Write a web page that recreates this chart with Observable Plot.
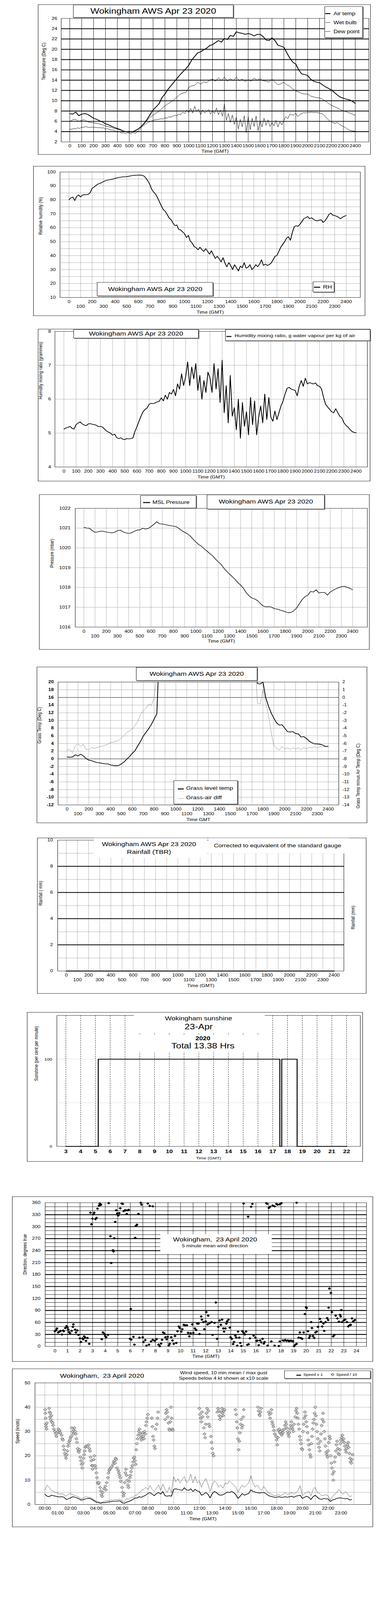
<!DOCTYPE html>
<html><head><meta charset="utf-8">
<script src="https://cdn.jsdelivr.net/npm/d3@7"></script>
<script src="https://cdn.jsdelivr.net/npm/@observablehq/plot@0.6"></script>
<style>
html,body{margin:0;padding:0;background:#fff;}
#page{position:relative;width:1000px;height:5000px;background:#fff;font-family:"Liberation Sans",Arial,Helvetica,sans-serif;color:#000;overflow:hidden;transform-origin:0 0;}
</style></head>
<body><div id="page"></div>
<script>
// ---------------- DATA ----------------
const hours15 = d3.range(97).map(i => i / 4);
const hours10 = d3.range(145).map(i => i / 6);
const hoursWind = d3.range(144).map(i => i / 6);
const hourTicks = d3.range(0, 25);

const airTemp = [7.5,7.4,7.8,7.1, 7.4,7.5,7.35,7.0, 6.6,6.4,6.1,5.9, 5.5,5.35,5.05,4.8, 4.6,4.4,4.1,4.0, 4.05,3.95,4.2,4.5,
 5.0,5.6,6.4,7.3, 8.2,8.8,9.4,10.6, 11.3,12.2,12.9,13.6, 14.3,15.0,15.6,16.2, 16.9,17.9,18.6,19.3, 19.5,19.9,20.2,20.7,
 20.9,21.3,21.7,21.4, 22.1,21.9,22.7,22.5, 23.4,23.2,23.1,22.9, 23.05,22.9,22.6,22.9, 22.9,22.5,21.8,21.7, 22.2,21.7,20.8,20.6,
 20.4,19.3,18.3,17.5, 17.1,16.0,15.2,15.1, 14.9,14.2,13.8,13.6, 13.5,13.1,12.7,12.4, 12.1,11.6,11.1,10.7, 10.5,10.3,10.2,9.9, 9.5];
const wetBulb = [6.0,6.3,6.35,6.0, 6.2,6.3,5.9,5.8, 5.7,5.6,5.5,5.3, 5.1,4.95,4.8,4.6, 4.5,4.3,4.15,3.95, 3.9,3.9,4.15,4.45,
 4.95,5.5,6.2,6.8, 7.2,7.6,7.95,8.5, 9.0,9.4,9.75,10.2, 10.7,11.2,11.5,11.6, 12.6,12.9,13.0,13.6, 13.2,13.7,13.5,14.0,
 14.2,13.8,14.5,13.9, 14.6,13.8,14.3,13.9, 14.6,13.9,14.2,13.7, 14.1,13.8,14.4,14.0, 14.3,13.9,13.8,13.6, 14.2,13.6,13.1,13.3,
 13.6,13.1,12.8,12.3, 11.9,11.7,11.4,11.3, 11.3,10.9,10.75,10.6, 10.55,10.3,9.95,9.5, 9.1,8.85,8.6,8.3, 8.05,7.85,7.65,7.4, 7.15];
const dewPoint = [4.5,4.45,4.6,4.55,4.75,4.6, 4.9,4.8,5.0,4.85,4.8,4.9, 4.8,4.85,4.75,4.8,4.7,4.75, 4.5,4.6,4.4,4.3,4.35,4.1,
 3.9,4.0,3.7,3.8,3.6,3.85, 3.7,3.55,3.9,3.6,4.0,4.3, 4.8,5.1,5.4,5.7,5.9,6.0, 6.2,6.3,6.35,6.4,6.5,6.45,
 6.7,6.6,6.9,6.8,7.0,7.2, 7.1,7.4,7.3,7.8,7.5,8.2, 7.7,8.5,7.6,8.9,7.9,8.4, 7.3,8.2,7.6,7.9,8.3,7.4,
 8.0,7.5,8.6,7.3,8.2,7.0, 9.3,6.2,7.5,5.8,7.2,5.4, 6.8,4.5,6.4,4.9,7.1,3.8, 6.9,4.4,6.6,5.0,7.0,4.2,
 6.1,4.9,6.6,5.2,6.3,5.0, 5.8,5.1,6.2,4.9,5.9,5.3, 6.2,6.9,6.5,7.4,7.3,7.2, 7.6,6.9,7.3,7.5,7.7,7.6,
 7.8,7.7,7.8,7.7,7.75,7.7, 7.6,7.5,7.3,6.8,6.5,6.1, 5.9,5.7,5.6,5.8,5.4,5.2, 5.0,4.8,4.5,4.3,4.2,4.1, 4.1];

const relHumidity = [80.2,81.5,82.0,79.5,82.5,83.5, 82.1,83.5,83.8,83.7,84.0,85.2, 88.3,89.2,90.3,91.3,91.8,92.4,
 93.2,93.8,94.2,94.4,94.7,95.0, 95.5,95.8,96.1,96.3,96.5,96.6, 96.7,96.9,97.2,97.5,97.6,97.7,
 97.7,97.8,97.6,97.1,95.5,93.5, 90.9,87.5,85.5,84.1,81.5,78.5, 75.6,73.0,71.8,69.5,67.0,65.8,
 63.4,61.5,62.0,58.8,58.5,57.0, 55.8,53.0,54.5,50.4,49.0,46.5, 45.8,44.2,46.0,44.3,43.0,45.0,
 43.1,41.0,43.5,40.5,38.0,39.5, 37.8,35.5,38.5,34.7,32.0,35.0, 32.8,30.0,33.5,31.3,29.0,32.5,
 31.3,35.0,31.0,31.7,33.5,30.0, 31.3,33.5,32.0,33.9,37.0,33.0, 33.9,33.0,33.5,34.7,37.0,39.5,
 40.1,43.0,46.0,48.1,50.0,52.5, 53.5,51.0,56.5,60.7,61.5,61.0, 62.6,64.5,66.5,67.2,68.0,66.5,
 67.2,66.0,65.3,64.9,65.5,65.7, 63.8,65.0,67.0,69.5,70.5,69.0, 68.8,68.2,67.5,66.5,67.5,68.2, 68.8];

const mixingRatio = [5.12,5.15,5.17,5.2,5.14,5.12, 5.25,5.3,5.33,5.27,5.24,5.22, 5.27,5.28,5.26,5.25,5.23,5.19,
 5.2,5.18,5.12,5.06,5.03,5.0, 4.94,4.97,4.87,4.84,4.86,4.82, 4.81,4.84,4.83,4.84,4.86,5.05,
 5.19,5.35,5.5,5.63,5.7,5.74, 5.85,5.88,5.87,5.89,5.92,5.94, 6.04,5.95,6.12,6.0,6.2,6.15,
 6.29,6.1,6.45,6.3,6.75,6.4, 6.66,7.1,6.4,6.95,6.6,7.05, 6.26,6.7,6.0,6.55,6.2,6.8,
 6.63,6.2,7.05,6.3,6.9,5.9, 7.15,5.6,6.4,5.3,6.7,5.5, 5.75,5.1,6.0,4.85,5.9,5.2,
 5.63,4.95,6.05,5.25,5.95,4.95, 5.47,5.8,5.3,6.15,5.4,6.05, 5.47,5.35,5.65,5.4,5.6,5.8,
 5.94,6.15,6.32,6.35,6.3,6.28, 6.26,6.1,6.38,6.55,6.38,6.62, 6.45,6.49,6.47,6.45,6.48,6.4,
 6.38,6.3,6.05,5.85,5.77,5.7, 5.63,5.6,5.72,5.6,5.5,5.45, 5.31,5.23,5.18,5.11,5.05,5.02, 5.01];

const mslPressure = [1021.04,1021.0,1020.99,1020.87, 1020.79,1020.81,1020.85,1020.84, 1020.8,1020.78,1020.76,1020.79,
 1020.87,1020.9,1020.81,1020.76, 1020.73,1020.76,1020.84,1020.9, 1020.91,1020.99,1020.95,1020.98,
 1021.08,1021.19,1021.32,1021.22, 1021.21,1021.18,1021.15,1021.12, 1021.1,1021.07,1020.98,1020.87,
 1020.79,1020.71,1020.6,1020.44, 1020.3,1020.17,1020.09,1019.95, 1019.84,1019.71,1019.6,1019.44,
 1019.3,1019.17,1018.98,1018.82, 1018.68,1018.55,1018.41,1018.25, 1018.12,1017.96,1017.74,1017.58,
 1017.47,1017.42,1017.34,1017.2, 1017.07,1017.02,1017.03,1017.01, 1016.93,1016.91,1016.86,1016.82,
 1016.77,1016.72,1016.74,1016.82, 1016.96,1017.18,1017.39,1017.53, 1017.61,1017.8,1017.77,1017.88,
 1017.72,1017.75,1017.75,1017.61, 1017.77,1017.85,1017.93,1017.99, 1018.04,1018.06,1018.01,1017.96, 1017.89];

const grassTemp = [0.5,0.42,0.5,1.05, 0.78,1.2,0.78,0.08, -0.33,-0.47,-0.75,-0.97, -1.03,-1.17,-1.3,-1.3,
 -1.58,-1.72,-1.8,-1.72, -1.3,-0.75,-0.05,0.64, 1.47,2.17,3.42,4.53, 5.92,6.89,7.86,8.97, 10.36,11.75,30,null,
 null,null,null,null, null,null,null,null, null,null,null,null, null,null,null,null, null,null,null,null,
 null,null,null,null, null,null,null,null, null,null,null,null, null,26,19.6,19.5,
 20.0,16.0,13.8,12.0, 10.6,9.4,8.8,8.9, 8.0,7.1,7.0,7.1, 6.6,6.5,5.7,5.8, 5.3,4.6,4.2,3.9, 3.9,3.8,3.6,3.2, 3.2];
const grassAirDiff = [-6.85,-6.78,-7.2,-6.3, -6.02,-6.36,-6.09,-6.78, -6.78,-6.5,-6.64,-6.54, -6.41,-6.36,-6.22,-6.09,
 -5.88,-5.81,-5.71,-5.6, -5.25,-4.91,-4.56,-4.35, -4.07,-3.66,-3.1,-2.27, -1.71,-1.43,-0.88,-1.02, -0.05,3.0,null,null,
 null,null,null,null, null,null,null,null, null,null,null,null, null,null,null,null, null,null,null,null,
 null,null,null,null, null,null,null,null, null,null,null,null, null,5.0,-0.75,-0.85,
 1.0,-0.75,-2.25,-4.5, -6.25,-6.6,-6.85,-6.35, -6.7,-6.55,-6.75,-6.55, -6.7,-6.55,-6.8,-6.5, -6.7,-6.5,-6.55,-6.4,
 -6.6,-6.4,-6.45,-6.35, -6.25];

const rainfall = [[0,0],[24,0]];
const sunshine = [[3,0],[5.19,100],[17.48,0],[17.61,100],[18.65,0],[22,0]];

const windDirection = [[0,38],[0.1,41],[0.16,45],[0.26,35],[0.36,37],[0.46,39],[0.56,30],[0.66,40],[0.7,38],[0.82,46],[0.92,51],[1.0,47],
 [1.06,42],[1.12,36],[1.2,33],[1.33,39],[1.43,49],[1.47,55],[1.61,42],[1.67,35],[1.79,40],[1.87,29],[1.99,20],[2.07,11],[2.19,20],
 [2.25,18],[2.33,25],[2.4,22],[2.47,14],[2.59,21],[2.73,6.4],
 [2.83,335],[2.91,306],[2.99,320],[3.07,331],[3.13,335],[3.23,319],[3.31,322],[3.39,345],[3.51,353],[3.57,358],[3.63,354],[3.67,355],
 [3.73,18],[3.82,35],[3.94,31],[4.0,26],[4.08,23],[4.22,29],
 [4.28,359],[4.42,276],[4.48,209],[4.62,241],[4.66,238],[4.72,271],[4.8,312],[4.88,341],[4.96,333],[5.04,328],[5.12,334],[5.2,346],
 [5.32,358],[5.4,357],[5.48,339],[5.56,341],[5.64,341],[5.72,332],[5.8,341],[5.88,342],
 [5.98,19],[6.04,94],[6.08,17],[6.25,24],[6.33,4.5],
 [6.39,272],[6.45,302],[6.53,305],[6.65,332],[6.83,360],[6.89,355],[7.39,358],[7.55,352],[7.79,351],
 [6.73,22],[6.99,23],[7.05,11],[7.19,16],[7.29,2],[7.49,4.5],[7.65,12.5],[7.79,16.5],[7.95,14],[8.09,18],
 [8.25,4.5],[8.35,0.5],[8.45,7],[8.53,16.5],[8.61,35],[8.71,33],[8.8,23],[8.9,18],[8.98,24],[9.06,2],[9.14,6.4],[9.26,23],[9.36,15],
 [9.46,6.4],[9.56,26],[9.66,8.5],[9.76,38],[9.86,50],[9.94,46],
 [10.06,37],[10.14,43],[10.26,54],[10.36,53],[10.5,53],[10.6,34],[10.7,25],[10.8,33],[10.94,55],[11.02,34],[11.14,45],[11.24,41],
 [11.33,57],[11.43,57],[11.51,31],
 [11.65,75],[11.7,67],[11.81,61],[11.9,43],[12.0,63],[12.05,86],[12.15,55],[12.2,77],[12.31,58],[12.47,61],[12.55,29],[12.71,59],
 [12.81,110],[12.91,19],[13.01,49],[13.11,65],[13.21,54],[13.31,67],[13.41,45],[13.47,37],[13.57,45],[13.65,57],[13.71,63],[13.82,67],[13.92,47],
 [13.98,23],[14.08,19],[14.18,6],[14.26,11],[14.36,27],[14.44,22],[14.52,2],[14.58,37],[14.68,22],[14.76,8.5],[14.84,1],[14.92,38],
 [15.02,34],[15.12,30],[15.22,37],[15.32,4],[15.42,5.5],[15.52,20],[15.82,27],[15.96,22],[16.04,14],
 [15.02,358],[15.38,325],[15.62,350],[15.72,357],
 [16.12,14.5],[16.22,3],[16.33,15],[16.43,10],[16.53,19],[16.63,7],[16.69,11],[16.93,2],[17.23,12.5],[17.49,2],[17.83,1],[17.9,12.5],
 [16.83,359],[16.89,357],[17.03,347],[17.13,350],[17.33,353],[17.49,351],[17.63,357],[17.73,355],[17.89,356],[18.03,359],[19.24,360],
 [18.14,15],[18.24,14.5],[18.34,16],[18.44,14],[18.54,15],[18.64,13],[18.74,14.5],[18.84,14],[18.94,13],[19.04,0.5],[19.14,4.5],[19.24,6.4],
 [19.4,22],[19.5,35],[19.58,21],[19.68,19],[19.8,35],[19.9,81],[20.0,98],[20.04,96],[20.14,38],[20.24,21],[20.3,26],[20.4,61],[20.46,46],
 [20.54,26],[20.64,21],[20.74,35],[20.84,37],[20.94,49],[21.1,69],[21.18,62],[21.28,50],[21.38,57],[21.44,39],[21.55,61],[21.67,71],
 [21.75,66],[21.79,97],[21.85,145],[21.97,134],
 [22.05,86],[22.15,25],[22.25,29],[22.35,77],[22.49,70],[22.61,62],[22.7,79],[22.75,75],[22.8,91],[22.85,61],[22.99,65],[23.11,67],
 [23.25,61],[23.35,50],[23.45,53],[23.55,54],[23.65,70],[23.75,63],[23.88,66]];

const windMean = [4.25,3.4,3.2,3.8,3.6,3.4, 3.2,3.1,3.2,2.95,2.05,2.3, 2.7,3.2,2.95,2.7,2.3,1.75, 2.05,2.3,2.5,2.5,2.05,1.5,
 0.95,0.75,0.5,0.75,0.75,0.95, 1.05,1.2,1.3,1.3,1.4,1.5, 0.75,0.5,0.95,1.2,1.6,2.05, 2.7,2.7,3.2,2.95,3.4,3.8,
 4.5,4.9,4.25,3.6,4.5,4.9, 4.25,5.35,3.6,3.4,3.6,3.4, 6.2,6.45,6.2,6.0,5.8,6.9, 6.0,5.8,6.45,5.35,6.2,5.55,
 5.35,3.8,4.25,4.9,4.25,2.7, 4.5,5.35,4.9,4.0,3.8,4.0, 4.5,5.1,4.9,5.35,4.9,4.0, 2.5,3.4,4.5,3.8,4.25,4.5,
 6.0,5.35,5.1,4.9,4.7,4.9, 4.9,4.5,3.8,3.4,3.2,2.95, 2.95,3.2,2.95,2.95,3.2,2.95, 3.2,3.4,2.95,3.4,3.6,3.8,
 2.5,2.95,3.4,2.95,2.05,3.2, 3.8,2.95,2.3,2.05,2.5,2.3, 2.3,1.2,1.85,2.05,2.5,2.7, 2.7,2.5,2.3,2.5,1.85,2.05];
const windGust = [5.8,8.0,7.1,5.8,5.35,4.9, 4.7,4.25,4.5,4.0,3.4,4.25, 4.5,4.0,3.6,3.4,2.95,2.3, 2.7,3.2,2.95,2.95,2.5,1.85,
 1.4,1.2,0.75,0.95,1.4,1.6, 1.6,1.85,1.75,2.05,1.95,2.2, 1.4,1.2,2.5,2.05,2.95,2.95, 3.6,4.0,4.7,5.8,6.2,7.1,
 6.2,7.75,6.2,5.35,6.65,8.0, 5.8,8.4,6.2,4.9,7.1,4.9, 11.5,9.3,10.6,8.85,10.2,11.5, 8.85,9.75,12.4,8.85,11.5,8.85,
 9.75,7.1,9.3,10.6,8.4,5.35, 8.0,9.75,8.85,7.1,8.0,6.65, 8.85,8.4,9.75,8.85,8.0,7.1, 4.9,6.65,8.0,7.1,8.0,8.85,
 11.9,8.85,7.1,8.0,6.65,5.8, 7.5,6.2,4.9,4.5,4.0,3.6, 3.8,4.0,3.6,4.25,4.9,4.0, 4.5,4.9,4.25,4.9,5.8,7.75,
 3.6,4.5,4.9,5.35,3.6,6.2, 7.1,4.9,4.5,3.6,3.8,4.0, 3.6,1.85,3.2,4.25,4.9,6.2, 4.9,4.25,5.35,4.5,3.2,3.6];

const lowSpeedX10 = [[0.02,39],[0.04,37.5],[0.06,35.5],[0.08,33],[0.1,32],[0.13,31],[0.15,33.5],
 [0.33,39.5],[0.37,38],[0.4,36],[0.42,37.5],[0.45,35],[0.5,36.5],[0.53,34],[0.6,33.5],[0.65,32.5],[0.7,31],[0.78,30],[0.85,29],[0.9,28],
 [1.0,30],[1.05,31],[1.1,29.5],[1.15,30.5],[1.2,29.5],[1.3,28.5],[1.35,27],[1.4,26.5],
 [1.45,24],[1.5,22.5],[1.55,21],[1.6,20],[1.65,19],[1.7,20.5],[1.75,22],[1.8,24],[1.85,25],[1.9,26],[1.95,26.5],[2.0,27.5],[2.05,28],
 [2.1,31.5],[2.15,30],[2.2,29],[2.25,30.5],[2.3,31.5],[2.35,30],[2.4,29],[2.45,27],[2.5,25.5],[2.55,23],[2.6,22],[2.65,21.5],[2.7,22.5],
 [2.75,19.5],[2.8,18],[2.85,16.5],[2.9,15],[2.95,17],[3.0,19],[3.05,20.5],[3.1,22],[3.15,23.5],[3.2,24],[3.3,24],[3.4,24.5],[3.45,23],[3.5,22],
 [3.55,19.5],[3.6,18],[3.65,16],[3.7,14.5],[3.75,16],[3.8,18.5],[3.85,20],[3.9,16],[3.95,15],[4.0,13],[4.05,11],[4.1,9],[4.15,8.5],[4.2,9],
 [4.3,7],[4.35,5.5],[4.4,4],[4.45,3.3],[4.5,5],[4.6,6.5],[4.7,7.5],[4.75,6],[4.8,9],[4.9,11],[4.95,13],[5.0,14],[5.05,14.5],[5.1,15],
 [5.2,15.5],[5.3,16.5],[5.35,17.5],[5.4,18],[5.45,17],[5.5,19],[5.55,18.5],[5.6,15],[5.7,14],[5.75,13],[5.8,12],[5.85,11],[5.9,9.5],
 [6.0,7],[6.05,5],[6.1,3.5],[6.15,4.5],[6.2,9],[6.25,13],[6.3,14.5],[6.35,12],[6.4,10],[6.45,8],[6.5,7],
 [6.55,9.5],[6.6,11],[6.65,12],[6.7,13.5],[6.75,15],[6.8,16],[6.85,17.5],[6.9,19],[6.95,19.5],
 [7.0,18],[7.05,16.5],[7.1,22.5],[7.15,25],[7.2,27],[7.25,28.5],[7.3,30],[7.35,31],[7.4,29],[7.45,27.5],[7.5,26.5],[7.55,28],[7.6,29.5],
 [7.65,28],[7.7,27],[7.75,30],[7.8,29],[7.85,32.5],[7.9,34],[7.95,35.5],[8.0,37],
 [8.3,35.5],[8.35,32],[8.4,28],[8.45,26.5],[8.5,24],[8.55,23],[8.6,31],[8.7,33],[8.75,35.5],[8.8,38],
 [9.35,35],[9.4,37.5],[9.45,39],[9.5,38],[9.55,36],[9.6,33.5],[9.65,31],[9.7,30.5],[9.75,34],[9.8,40],[9.85,35.5],[9.9,31],[9.95,30.5],
 [12.0,39.5],[12.05,37],[12.1,35.5],[12.15,34],[12.2,38],[12.25,36],[12.35,31.5],[12.4,29],[12.45,27.5],[12.5,33],[12.55,37.5],[12.6,39.5],
 [12.65,36],[12.7,38.5],[12.75,33],[12.8,32],[12.9,28],[12.95,25.5],[13.0,23],[13.05,21],[13.1,20],
 [13.4,38],[13.45,39.5],[13.5,38.5],[13.55,36.5],[13.6,35],[13.65,36],[13.7,38],[13.75,39.5],[13.8,37.5],[13.85,36.5],[13.9,38.5],[13.95,39],
 [14.8,39],[14.85,37],[14.9,34],[14.95,31.5],[15.0,27],[15.05,22.5],[15.1,26],[15.15,29.5],[15.2,33],[15.25,35],[15.3,31.5],[15.35,32.5],[15.4,36],[15.45,39],
 [16.55,40],[16.6,38.5],[16.65,37],[16.7,36.5],[16.75,38],[16.8,39.5],
 [17.4,38],[17.45,37],[17.5,35.5],[17.55,37.5],[17.6,39],[17.65,34],[17.7,33],[17.75,32],[17.8,30.5],[17.85,29],
 [17.95,28],[18.0,26.5],[18.05,24.5],[18.1,27.5],[18.15,30.5],[18.2,31],[18.25,29.5],[18.3,30],[18.35,29],[18.4,28.5],[18.45,30.5],[18.5,29.5],
 [18.6,31],[18.65,32.5],[18.7,34],[18.75,33],[18.8,31.5],[18.85,30],[18.9,29],[18.95,28],[19.0,29.5],[19.05,31],[19.1,32.5],[19.15,34],
 [19.2,32],[19.25,31],[19.3,30],[19.35,33],[19.45,36],[19.5,38.5],[19.55,39.5],[19.6,37.5],[19.65,35.5],[19.7,33],[19.75,31],[19.8,28],
 [19.85,26.5],[19.9,25],[19.95,23],[20.0,22.5],[20.05,30],[20.1,33],[20.15,35.5],[20.2,38],[20.25,36.5],[20.3,34],[20.35,32],[20.4,29.5],
 [20.45,26.5],[20.5,24.5],[20.55,22.5],[20.6,20.5],[20.65,19.5],[20.7,25],[20.75,28],[20.8,31],[20.85,33.5],[20.9,35],[20.95,37.5],[21.0,40],
 [21.05,36.5],[21.1,33],[21.15,30],[21.2,27],[21.25,25],[21.3,23.5],[21.35,22],[21.4,26],[21.45,29],[21.5,32.5],[21.55,35],[21.6,37.5],
 [21.65,34],[21.7,30],[21.75,27],[21.8,24],[21.85,21.5],[21.9,20.5],[21.95,19.5],[22.0,22],[22.05,25.5],[22.1,28],[22.15,27],
 [22.2,20],[22.25,17],[22.3,15],[22.35,12.5],[22.4,10],[22.45,13.5],[22.5,17.5],[22.55,19.5],[22.6,22],[22.65,24.5],[22.7,26],
 [22.75,23],[22.8,21],[22.85,20.5],[22.9,22.5],[22.95,25],[23.0,26.5],[23.05,27.5],[23.1,28.5],[23.15,26],[23.2,27],[23.25,25.5],
 [23.3,24],[23.35,22.5],[23.4,21.5],[23.45,23],[23.5,24.5],[23.55,25.5],[23.6,23.5],[23.65,21],[23.7,19],[23.75,17.5],[23.8,17],[23.85,18.5],[23.9,20.5]];

// ---------------- HELPERS ----------------
const FONT = '"Liberation Sans", Arial, Helvetica, sans-serif';
const page = document.getElementById('page');
// the photographed window is only as tall as the screen allows: fit the 5000px layout into it
const fitScale = Math.min(1, (window.innerHeight || 5000) / 5000);
page.style.transform = 'scaleY(' + fitScale + ')';

const series = (xs, ys) => ys.map((y, i) => ({x: xs[i], y}));
const evenHours = hourTicks.filter(h => h % 2 === 0);
const oddHours = hourTicks.filter(h => h % 2 === 1);
const hhmm = h => String(h * 100);
const DOT = "1,2";

function el(tag, css, text) {
  const e = document.createElement(tag);
  Object.assign(e.style, css);
  if (text != null) e.textContent = text;
  page.appendChild(e);
  return e;
}
function outer(x0, y0, x1, y1) {
  el('div', {position:'absolute', left:x0+'px', top:y0+'px', width:(x1-x0)+'px', height:(y1-y0)+'px',
    border:'1px solid #000', boxSizing:'border-box', pointerEvents:'none'});
}
function rect(x0, y0, x1, y1, opt = {}) {
  return el('div', {position:'absolute', left:x0+'px', top:y0+'px', width:(x1-x0)+'px', height:(y1-y0)+'px',
    boxSizing:'border-box', background:'#fff', border: opt.border === false ? 'none' : '1px solid #000',
    boxShadow: opt.shadow ? '2px 2px 0 #808080' : 'none'});
}
function label(text, x, y, size, opt = {}) {
  return el('div', {position:'absolute', left:x+'px', top:y+'px',
    transform: opt.anchor === 'start' ? 'translate(0,-50%)' : 'translate(-50%,-50%)',
    fontSize:size+'px', fontWeight: opt.bold ? 'bold' : 'normal', whiteSpace:'pre', lineHeight:'1',
    fontFamily:FONT, color: opt.color || '#000'}, text);
}
function swatch(x0, x1, y, w, color) {
  el('div', {position:'absolute', left:x0+'px', top:(y - w/2)+'px', width:(x1-x0)+'px', height:w+'px', background:color});
}
function chart(box, frame, xDomain, yDomain, marks) {
  const svg = Plot.plot({
    width: box[2]-box[0], height: box[3]-box[1],
    marginLeft: frame[0]-box[0], marginRight: box[2]-frame[2],
    marginTop: frame[1]-box[1], marginBottom: box[3]-frame[3],
    x: {domain: xDomain, axis: null}, y: {domain: yDomain, axis: null},
    style: {fontFamily: FONT, fontSize: '13px', background: 'transparent', color: '#000', overflow: 'visible'},
    marks
  });
  svg.style.position = 'absolute';
  svg.style.left = box[0] + 'px';
  svg.style.top = box[1] + 'px';
  svg.style.maxWidth = 'none';
  page.appendChild(svg);
  outer(...box);
}
const xText = (ticks, fmt, dy, o = {}) => Plot.text(ticks, {x: d => d, text: fmt, frameAnchor: 'bottom', dy, fontSize: 13, fill: '#000', ...o});
const yText = (ticks, fmt, dx, o = {}) => Plot.text(ticks, {y: d => d, text: fmt, frameAnchor: 'left', textAnchor: 'end', dx, fontSize: 13, fill: '#000', ...o});
const xTitle = (t, dy, o = {}) => Plot.text([t], {text: d => d, frameAnchor: 'bottom', dy, fontSize: 13, fill: '#000', ...o});
const yTitle = (t, dx, o = {}) => Plot.text([t], {text: d => d, frameAnchor: 'left', dx, rotate: -90, fontSize: 12.5, fill: '#000', ...o});
const lineOf = (xs, ys, o) => Plot.line(series(xs, ys), {x: 'x', y: 'y', stroke: '#000', clip: true, ...o});

// ---------------- PANEL 1: temperatures ----------------
chart([97,14,948,483], [156,57,943,443], [-0.723, 25.15], [2, 26], [
  Plot.ruleX(hourTicks, {stroke: '#000', strokeWidth: 1}),
  Plot.ruleY(d3.range(4, 25, 2), {stroke: '#000', strokeWidth: 2.4}),
  lineOf(hours15, wetBulb, {strokeWidth: 1}),
  lineOf(hours10, dewPoint, {strokeWidth: 1}),
  lineOf(hours15, airTemp, {strokeWidth: 2.2}),
  Plot.frame({stroke: '#000'}),
  xText(hourTicks, hhmm, 17),
  xTitle('Time (GMT)', 34),
  yText(d3.range(2, 27, 2), String, -10),
  yTitle('Temperature (Deg C)', -45)
]);
rect(187,15,597,55,{shadow:true}); label('Wokingham AWS Apr 23 2020', 392, 35, 24);
rect(830,20,928,118,{shadow:true});
swatch(832,845,42,3,'#000'); label('Air temp', 853, 42, 15, {anchor:'start'});
swatch(832,845,70,1,'#000'); label('Wet bulb', 853, 70, 15, {anchor:'start'});
swatch(832,845,98,1,'#000'); label('Dew point', 853, 98, 15, {anchor:'start'});

// ---------------- PANEL 2: relative humidity ----------------
chart([85,519,934,987], [153,537,921,929], [-0.779, 25.22], [10, 100], [
  Plot.ruleX(hourTicks, {stroke: '#000', strokeDasharray: DOT}),
  Plot.ruleY(d3.range(15, 100, 5), {stroke: '#000', strokeDasharray: DOT}),
  lineOf(hours10, relHumidity, {strokeWidth: 2}),
  Plot.frame({stroke: '#000'}),
  xText(evenHours, hhmm, 18),
  xText(oddHours, hhmm, 33),
  xTitle('Time (GMT)', 51),
  yText(d3.range(10, 101, 10), String, -11),
  yTitle('Relative humidity (%)', -50)
]);
rect(248,882,545,925,{shadow:true}); label('Wokingham AWS Apr 23 2020', 397, 904, 18);
rect(800,880,855,913,{shadow:true}); swatch(803,819,897,3,'#000'); label('RH', 826, 897, 16, {anchor:'start'});

// ---------------- PANEL 3: mixing ratio ----------------
chart([97,1028,947,1504], [140,1035,939,1459], [-0.739, 24.93], [4, 8], [
  Plot.ruleX(hourTicks, {stroke: '#000', strokeDasharray: DOT}),
  Plot.ruleY([5, 6, 7], {stroke: '#000', strokeDasharray: DOT}),
  lineOf(hours10, mixingRatio, {strokeWidth: 2}),
  Plot.frame({stroke: '#000'}),
  xText(hourTicks, hhmm, 18),
  xTitle('Time (GMT)', 36),
  yText([4, 5, 6, 7, 8], String, -10),
  yTitle('Humidity mixing ratio (grammes)', -37)
]);
rect(188,1029,508,1057,{shadow:true}); label('Wokingham AWS Apr 23 2020', 348, 1043, 18);
rect(576,1029,947,1065,{shadow:true}); swatch(579,592,1051,3,'#000');
label('Humidity mixing ratio, g water vapour per kg of air', 600, 1049, 14, {anchor:'start'});

// ---------------- PANEL 4: pressure ----------------
chart([100,1545,945,2030], [192,1588,939,1959], [-0.769, 25.32], [1016, 1022], [
  Plot.ruleX(hourTicks, {stroke: '#000', strokeDasharray: DOT}),
  Plot.ruleY([1017, 1018, 1019, 1020, 1021], {stroke: '#000', strokeDasharray: DOT}),
  lineOf(hours15, mslPressure, {strokeWidth: 1.6}),
  Plot.frame({stroke: '#000'}),
  xText(evenHours, hhmm, 18),
  xText(oddHours, hhmm, 33),
  xTitle('Time (GMT)', 49),
  yText(d3.range(1016, 1023), String, -12),
  yTitle('Pressure (mbar)', -60)
]);
rect(359,1548,502,1588,{shadow:true}); swatch(366,384,1570,3,'#000'); label('MSL Pressure', 390, 1569, 15, {anchor:'start'});
rect(529,1546,830,1591,{shadow:true}); label('Wokingham AWS Apr 23 2020', 680, 1568, 18);

// ---------------- PANEL 5: grass temperature ----------------
chart([94,2084,939,2572], [148,2131,866,2515], [-0.826, 24.97], [-12, 20], [
  Plot.ruleX(hourTicks, {stroke: '#000', strokeDasharray: DOT}),
  Plot.ruleY(d3.range(-10, 20, 2).filter(v => v !== 0 && v !== 16), {stroke: '#000', strokeDasharray: DOT}),
  Plot.ruleY([0, 16], {stroke: '#000', strokeWidth: 1}),
  Plot.line(series(hours15, grassAirDiff), {x: 'x', y: d => d.y == null ? null : 16 + 2 * d.y, stroke: '#8a8a8a', strokeWidth: 1, clip: true}),
  lineOf(hours15, grassTemp, {strokeWidth: 2}),
  Plot.frame({stroke: '#000'}),
  xText(evenHours, hhmm, 17),
  xText(oddHours, hhmm, 32),
  xTitle('Time GMT', 50),
  yText(d3.range(-12, 21, 2), String, -11, {fontWeight: 'bold', fontSize: 12.5}),
  Plot.text(d3.range(-14, 3), {y: d => 16 + 2 * d, text: String, frameAnchor: 'right', textAnchor: 'start', dx: 9, fontSize: 12.5, fill: '#000'}),
  yTitle('Grass Temp (Deg C)', -48),
  Plot.text(['Grass Temp minus Air Temp (Deg C)'], {text: d => d, frameAnchor: 'right', dx: 49, rotate: -90, fontSize: 12.5, fill: '#000'})
]);
rect(348,2085,658,2127,{shadow:true}); label('Wokingham AWS Apr 23 2020', 503, 2106, 18);
rect(444,2439,608,2513,{shadow:true});
swatch(455,470,2465,3,'#000'); label('Grass level temp', 476, 2463, 16, {anchor:'start'});
swatch(455,470,2495,1,'#808080'); label('Grass-air diff', 476, 2493, 16, {anchor:'start'});

// ---------------- PANEL 6: rainfall ----------------
chart([95,2618,937,3105], [147,2625,879,3034], [-0.771, 24.88], [0, 10], [
  Plot.ruleX(hourTicks, {stroke: '#000', strokeDasharray: DOT}),
  Plot.ruleY([1, 3, 5, 7, 9], {stroke: '#000', strokeDasharray: DOT}),
  Plot.ruleY([2, 4, 6, 8], {stroke: '#000', strokeWidth: 2.4}),
  Plot.frame({stroke: '#000'}),
  Plot.line(rainfall, {x: d => d[0], y: d => d[1], stroke: '#000', strokeWidth: 3}),
  xText(evenHours, hhmm, 17),
  xText(oddHours, hhmm, 32),
  xTitle('Time (GMT)', 50),
  yText([0, 2, 4, 6, 8, 10], String, -12),
  yTitle('Rainfall ( mm)', -44),
  Plot.text(['Rainfall (mm)'], {text: d => d, frameAnchor: 'right', dx: 23, rotate: -90, fontSize: 12.5, fill: '#000'})
]);
rect(240,2619,529,2680,{border:false}); rect(534,2619,893,2667,{border:false});
label('Wokingham AWS Apr 23 2020', 381, 2638, 18);
label('Rainfall (TBR)', 381, 2662, 18);
label('Corrected to equivalent of the standard gauge', 547, 2643, 16, {anchor:'start'});

// ---------------- PANEL 7: sunshine ----------------
const sunHours = d3.range(3, 23);
chart([69,3163,928,3630], [145,3173,921,3582], [2.391, 22.926], [0, 150], [
  Plot.ruleX(sunHours, {stroke: '#000', strokeDasharray: '4,3'}),
  Plot.ruleY([50, 100], {stroke: '#999', strokeDasharray: DOT}),
  Plot.frame({stroke: '#000'}),
  Plot.line(sunshine, {x: d => d[0], y: d => d[1], curve: 'step-after', stroke: '#000', strokeWidth: 2.5}),
  xText(sunHours, String, 21, {fontSize: 16, fontWeight: 'bold'}),
  xTitle('Time (GMT)', 41, {fontSize: 12}),
  yText([0, 100], String, -12, {fontSize: 12}),
  yTitle('Sunshine (per cent per minute)', -53)
]);
rect(342,3166,677,3229,{border:false}); rect(350,3233,672,3287,{border:false});
label('Wokingham sunshine', 508, 3182, 18);
label('23-Apr', 508, 3208, 24);
label('2020', 519, 3245, 17, {bold:true});
label('Total 13.38 Hrs', 519, 3268, 24);

// ---------------- PANEL 8: wind direction ----------------
chart([31,3739,954,4255], [115,3758,937,4207], [-0.778, 24.81], [0, 360], [
  Plot.ruleX(hourTicks, {stroke: '#000', strokeWidth: 1}),
  Plot.ruleY(d3.range(10, 360, 10).filter(v => v % 30 !== 0), {stroke: '#000', strokeWidth: 1}),
  Plot.ruleY(d3.range(30, 360, 30), {stroke: '#000', strokeWidth: 2.6}),
  Plot.frame({stroke: '#000'}),
  Plot.dot(windDirection, {x: d => d[0], y: d => d[1], symbol: 'diamond2', r: 3.6, fill: '#000', stroke: 'none'}),
  xText(hourTicks, String, 18),
  xTitle('Time (GMT)', 36),
  yText(d3.range(0, 361, 30), String, -12),
  yTitle('Direction, degrees true', -52)
]);
rect(410,3857,695,3918,{border:false});
label('Wokingham,  23 April 2020', 550, 3873, 18);
label('5 minute mean wind direction', 550, 3893, 13);

// ---------------- PANEL 9: wind speed ----------------
const hh = h => String(h).padStart(2, '0') + ':00';
chart([31,4277,954,4772], [89,4321,948,4701], [-0.765, 25.32], [0, 50], [
  Plot.ruleX(hourTicks, {stroke: '#000', strokeDasharray: DOT}),
  Plot.ruleY(d3.range(5, 50, 5), {stroke: '#000', strokeDasharray: DOT}),
  lineOf(hoursWind, windGust, {stroke: '#555', strokeWidth: 1}),
  lineOf(hoursWind, windMean, {strokeWidth: 1.8}),
  Plot.dot(lowSpeedX10, {x: d => d[0], y: d => d[1], symbol: 'diamond2', r: 4, fill: '#c8c8c8', stroke: '#333', strokeWidth: 0.9}),
  Plot.frame({stroke: '#000'}),
  xText(evenHours.filter(h => h < 24), hh, 16, {fontSize: 12.5}),
  xText(oddHours, hh, 31, {fontSize: 12.5}),
  xTitle('Time (GMT)', 49),
  yText(d3.range(0, 51, 10), String, -12),
  yTitle('Speed (knots)', -45)
]);
label('Wokingham,  23 April 2020', 261, 4299, 18);
label('Wind speed, 10 min mean / max gust', 572, 4290, 13.5);
label('Speeds below 4 kt shown at x10 scale', 572, 4307, 13.5);
rect(727,4283,948,4308,{shadow:true});
swatch(758,770,4297,3,'#000'); label('Speed x 1', 776, 4296, 11, {anchor:'start'});
el('div', {position:'absolute', left:'847px', top:'4292px', width:'7px', height:'7px', background:'#c8c8c8',
  border:'1px solid #333', boxSizing:'border-box', transform:'rotate(45deg)'});
label('Speed / 10', 860, 4296, 11, {anchor:'start'});
</script>
</body></html>
